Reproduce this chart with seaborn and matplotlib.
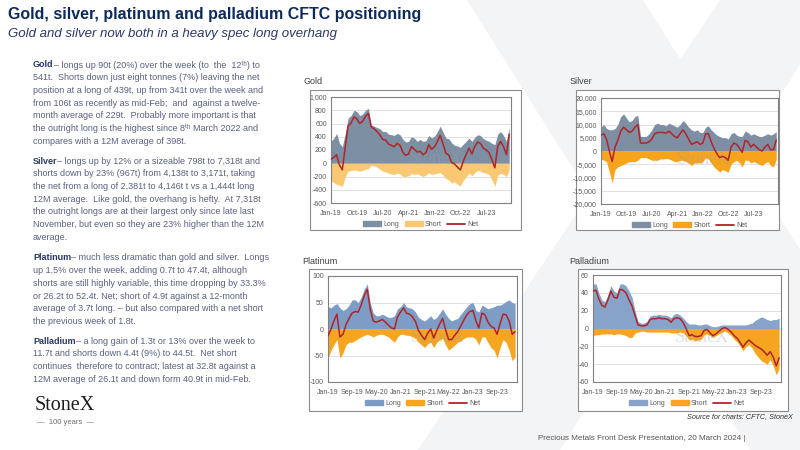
import numpy as np
import pandas as pd
import matplotlib
matplotlib.use('Agg')
import matplotlib.pyplot as plt
from matplotlib.patches import Rectangle, Polygon
from matplotlib.lines import Line2D
from matplotlib.patches import Patch
import seaborn as sns

# ---------------------------------------------------------------------------
# DATA (monthly readings, tonnes) Jan-19 .. Mar-24
# ---------------------------------------------------------------------------
months = pd.date_range('2019-01-01', '2024-03-01', freq='MS')

gold_long = [330, 380, 450, 300, 250, 450, 680, 720, 800, 780, 720, 740,
             800, 830, 580, 560, 540, 520, 480, 480, 440, 430, 420, 450,
             430, 360, 320, 330, 400, 380, 330, 360, 330, 340, 420, 380,
             410, 480, 560, 470, 380, 370, 310, 270, 260, 240, 290, 330,
             380, 330, 390, 430, 420, 370, 350, 330, 300, 280, 440, 480,
             420, 330, 541]
gold_short = [-270, -290, -320, -330, -350, -200, -120, -110, -100, -110, -120, -110,
              -90, -80, -30, -40, -60, -90, -120, -130, -150, -160, -170, -150,
              -160, -200, -200, -190, -150, -170, -160, -180, -200, -180, -140, -170,
              -160, -150, -140, -180, -230, -250, -300, -280, -320, -340, -260, -200,
              -150, -190, -140, -110, -120, -140, -150, -170, -250, -350, -180, -150,
              -170, -200, -102]

silver_long = [9000, 10000, 8500, 8000, 8000, 8500, 10000, 13000, 14000, 12500, 11000, 11500,
               13000, 13500, 5500, 5500, 5500, 6500, 8000, 10000, 10500, 10000, 10000, 9500,
               10500, 10000, 9500, 9000, 10000, 11500, 10500, 9000, 8000, 7500, 8000, 7000,
               7000, 9000, 9500, 8000, 7000, 6000, 5500, 5000, 5000, 4500, 6500, 7000,
               6000, 5500, 5500, 7500, 7000, 6000, 6500, 6000, 5500, 5500, 6000, 6500,
               6000, 6500, 7318]
silver_short = [-3000, -3500, -4000, -8000, -12000, -7000, -6000, -5500, -5000, -4500, -4000, -4000,
                -4000, -3500, -2500, -2500, -2500, -3000, -3500, -3500, -3500, -3000, -3000, -2800,
                -3000, -3500, -4000, -4000, -3500, -3500, -4000, -4500, -5500, -4500, -4500, -4500,
                -4000, -2500, -3000, -4500, -6000, -7000, -8000, -7000, -7500, -8000, -5000, -4000,
                -3500, -4500, -6000, -3500, -3500, -4500, -4000, -4500, -5000, -5500, -4500, -4000,
                -5500, -6000, -3171]

plat_long = [42, 40, 45, 48, 40, 35, 38, 45, 55, 55, 50, 60,
             75, 85, 50, 30, 25, 25, 28, 25, 22, 22, 25, 38,
             42, 50, 42, 40, 38, 32, 22, 18, 15, 20, 25, 18,
             22, 30, 38, 28, 20, 15, 18, 20, 28, 35, 42, 48,
             50, 35, 32, 45, 42, 38, 40, 42, 45, 45, 48, 52,
             55, 50, 47.4]
plat_short = [-55, -40, -30, -20, -55, -45, -30, -25, -25, -22, -18, -15,
              -12, -10, -12, -15, -12, -10, -10, -12, -15, -20, -25, -15,
              -10, -10, -12, -12, -15, -18, -25, -30, -35, -28, -25, -35,
              -25, -20, -18, -30, -40, -35, -30, -25, -22, -18, -15, -15,
              -15, -20, -30, -15, -15, -25, -35, -40, -55, -35, -20, -25,
              -40, -60, -52.4]

pall_long = [50, 50, 40, 32, 30, 38, 48, 42, 40, 50, 50, 48,
             42, 35, 20, 8, 6, 6, 8, 14, 15, 15, 16, 15,
             15, 14, 12, 16, 17, 15, 12, 8, 5, 5, 5, 4,
             4, 5, 5, 3, 2, 2, 3, 4, 4, 4, 4, 4,
             4, 4, 4, 4, 5, 6, 9, 11, 13, 12, 10, 9,
             10, 10, 11.7]
pall_short = [-8, -7, -7, -6, -6, -6, -6, -7, -6, -6, -7, -8,
              -10, -10, -5, -4, -3, -3, -4, -4, -4, -4, -4, -4,
              -4, -4, -5, -5, -5, -4, -5, -8, -13, -12, -14, -13,
              -12, -7, -6, -8, -10, -8, -6, -4, -3, -5, -8, -12,
              -15, -20, -25, -20, -18, -22, -28, -32, -36, -38, -40, -35,
              -42, -52, -44.5]

# chart config: name, long, short, y-ticks, long colour, short colour
charts = [
    ('Gold', gold_long, gold_short, list(range(-600, 1001, 200)), '#7d8fa3', '#fac873'),
    ('Silver', silver_long, silver_short, list(range(-20000, 20001, 5000)), '#7f8fa3', '#f5a41c'),
    ('Platinum', plat_long, plat_short, list(range(-100, 101, 50)), '#7d9cc6', '#f5a51f'),
    ('Palladium', pall_long, pall_short, list(range(-60, 61, 20)), '#87a3c9', '#f5a51f'),
]
NET_COLOR = '#b0242a'

gold_silver_ticks = pd.date_range('2019-01-01', periods=7, freq='9MS')
pgm_ticks = pd.date_range('2019-01-01', periods=8, freq='8MS')

# ---------------------------------------------------------------------------
# FIGURE
# ---------------------------------------------------------------------------
sns.set_theme(style='white')
plt.rcParams['font.family'] = ['Liberation Sans', 'DejaVu Sans']

W, H = 800, 450
fig = plt.figure(figsize=(8, 4.5), dpi=100)
fig.patch.set_facecolor('white')


def px_rect(x0, y0, x1, y1):
    return [x0 / W, 1 - y1 / H, (x1 - x0) / W, (y1 - y0) / H]


def fx(x):
    return x / W


def fy(y):
    return 1 - y / H


# faint X watermark in the background (two crossing strokes)
wm = '#f3f4f6'
for pts in [[(467, 0), (643, 0), (926, 450), (750, 450)],
            [(720, 0), (840, 0), (560, 450), (418, 450)]]:
    fig.patches.append(Polygon([(fx(a), fy(b)) for a, b in pts], closed=True,
                               transform=fig.transFigure, fc=wm, ec='none', zorder=0))

# headline
fig.text(fx(8), fy(15), 'Gold, silver, platinum and palladium CFTC positioning',
         fontsize=11.5, fontweight='bold', color='#0d2a5c', va='center', zorder=3)
fig.text(fx(8), fy(34), 'Gold and silver now both in a heavy spec long overhang',
         fontsize=9.5, style='italic', color='#2d3868', va='center', zorder=3)

# left text column
paragraphs = [
    (65, 'Gold', ['– longs up 90t (20%) over the week (to  the  12ᵗʰ) to',
                  '541t.  Shorts down just eight tonnes (7%) leaving the net',
                  'position at a long of 439t, up from 341t over the week and',
                  'from 106t as recently as mid-Feb;  and  against a twelve-',
                  'month average of 229t.  Probably more important is that',
                  'the outright long is the highest since 8ᵗʰ March 2022 and',
                  'compares with a 12M average of 398t.']),
    (161, 'Silver', ['– longs up by 12% or a sizeable 798t to 7,318t and',
                     'shorts down by 23% (967t) from 4,138t to 3,171t, taking',
                     'the net from a long of 2,381t to 4,146t t vs a 1,444t long',
                     '12M average.  Like gold, the overhang is hefty.  At 7,318t',
                     'the outright longs are at their largest only since late last',
                     'November, but even so they are 23% higher than the 12M',
                     'average.']),
    (258, 'Platinum', ['– much less dramatic than gold and silver.  Longs',
                       'up 1.5% over the week, adding 0.7t to 47.4t, although',
                       'shorts are still highly variable, this time dropping by 33.3%',
                       'or 26.2t to 52.4t. Net; short of 4.9t against a 12-month',
                       'average of 3.7t long. – but also compared with a net short',
                       'the previous week of 1.8t.']),
    (341, 'Palladium', ['– a long gain of 1.3t or 13% over the week to',
                        '11.7t and shorts down 4.4t (9%) to 44.5t.  Net short',
                        'continues  therefore to contract; latest at 32.8t against a',
                        '12M average of 26.1t and down form 40.9t in mid-Feb.']),
]
BODY = 6.5
renderer = fig.canvas.get_renderer()
for y0, head, lines in paragraphs:
    t = fig.text(fx(33), fy(y0), head, fontsize=BODY, fontweight='bold',
                 color='#2a3766', va='center')
    bb = t.get_window_extent(renderer=renderer)
    fig.text(bb.x1 / W, fy(y0), lines[0], fontsize=BODY, color='#5b6080', va='center')
    for i, line in enumerate(lines[1:], start=1):
        fig.text(fx(33), fy(y0 + i * 12.7), line, fontsize=BODY, color='#5b6080', va='center')

# StoneX logo
fig.text(fx(35), fy(406), 'StoneX', family=['Liberation Serif'], fontsize=14.5,
         color='#1e1e1e', va='center')
fig.text(fx(37), fy(422), '—  100 years  —', fontsize=5.5, color='#6b6b6b', va='center')

# footers
fig.text(fx(793), fy(417), 'Source for charts: CFTC, StoneX', fontsize=5.2,
         style='italic', color='#333333', ha='right', va='center', zorder=3)
fig.text(fx(538), fy(438), 'Precious Metals Front Desk Presentation, 20 March 2024 |',
         fontsize=5.8, color='#555555', va='center', zorder=3)

# chart frames: (title pos, outer box, plot area)
layout = [
    ((303, 82), (310, 90, 521, 230), (331, 97, 511, 203)),
    ((570, 82), (576, 90, 779, 230), (601, 98, 778, 204)),
    ((302, 262), (309, 269, 522, 411), (328, 276, 517, 382)),
    ((569, 262), (578, 269, 788, 411), (593, 275, 781, 382)),
]

for (name, longs, shorts, yticks, c_long, c_short), (tpos, box, area) in zip(charts, layout):
    fig.patches.append(Rectangle((fx(box[0]), fy(box[3])), (box[2] - box[0]) / W,
                                 (box[3] - box[1]) / H, transform=fig.transFigure,
                                 fc='white', ec='#8c8c8c', lw=0.8, zorder=1))
    fig.text(fx(tpos[0]), fy(tpos[1]), name, fontsize=6.5, color='#404040',
             va='center', zorder=3)

    ax = fig.add_axes(px_rect(*area))
    ax.set_zorder(2)
    ax.set_facecolor('white')
    df = pd.DataFrame({'date': months, 'long': longs, 'short': shorts})
    df['net'] = df['long'] + df['short']

    ax.fill_between(df['date'], 0, df['long'], color=c_long, lw=0, zorder=2)
    ax.fill_between(df['date'], 0, df['short'], color=c_short, lw=0, zorder=2)
    sns.lineplot(data=df, x='date', y='net', ax=ax, color=NET_COLOR, lw=1.1, zorder=3)

    ax.set_ylim(yticks[0], yticks[-1])
    ax.set_yticks(yticks)
    ax.set_yticklabels([f'{v:,}' for v in yticks])
    ax.set_xlim(months[0], pd.Timestamp('2024-03-20'))
    xt = gold_silver_ticks if name in ('Gold', 'Silver') else pgm_ticks
    ax.set_xticks(xt)
    ax.set_xticklabels([d.strftime('%b-%y') for d in xt])
    ax.set_xlabel('')
    ax.set_ylabel('')
    ax.tick_params(labelsize=5, colors='#595959', length=0)
    ax.tick_params(axis='x', pad=5)
    ax.tick_params(axis='y', pad=3)
    ax.grid(axis='y', color='#dcdcdc', lw=0.6, zorder=0)
    ax.set_axisbelow(True)
    for sp in ax.spines.values():
        sp.set_color('#808080')
        sp.set_linewidth(0.8)
    ax.text(0.58, 0.42, 'StoneX', transform=ax.transAxes, fontsize=13,
            family=['Liberation Serif'], color='#9aa3ad', alpha=0.35,
            ha='center', va='center', zorder=2.5)

    handles = [Patch(color=c_long, label='Long'), Patch(color=c_short, label='Short'),
               Line2D([], [], color=NET_COLOR, lw=1.3, label='Net')]
    ax.legend(handles=handles, loc='upper center', bbox_to_anchor=(0.5, -0.11),
              ncol=3, frameon=False, fontsize=5, handlelength=2.6, handleheight=0.6,
              columnspacing=0.8, handletextpad=0.3, labelcolor='#595959')

fig.savefig('out.png', dpi=100)
